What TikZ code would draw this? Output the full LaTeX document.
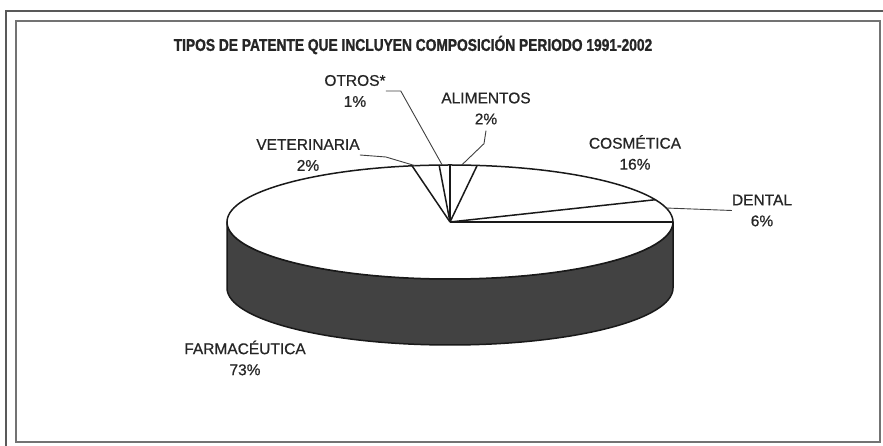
\documentclass[tikz,border=0pt]{standalone}
\usepackage{fontspec}
\setmainfont[FakeBold=0.7]{Liberation Sans}
\newfontfamily\titlefont[FakeStretch=0.81,FakeBold=1.2]{Liberation Sans Bold}
\newfontfamily\labelfont[FakeBold=0.7]{Liberation Sans}
\usetikzlibrary{calc}
\definecolor{txt}{HTML}{262626}
\definecolor{sidegray}{HTML}{424242}
\begin{document}
\begin{tikzpicture}[x=1pt,y=1pt,
  lbl/.style={font=\labelfont\fontsize{15.5}{21}\selectfont, text=txt, align=center, inner sep=0pt},
  edge/.style={draw=black!90, line width=1.5pt, line join=round},
  leader/.style={draw=black!75, line width=0.9pt}]
\useasboundingbox (0,0) rectangle (883,446);
% frames
\draw[line width=2.5pt, draw=black!65] (6,0) -- (6,435) -- (883,435);
\draw[line width=1.6pt, draw=black!55] (16,4) rectangle (880,425);
% title
\node[font=\titlefont\fontsize{17}{20}\selectfont, text=txt] (title) at (413,401)
  {TIPOS DE PATENTE QUE INCLUYEN COMPOSICIÓN PERIODO 1991-2002};
% pie
\coordinate (C) at (450,224);
\filldraw[fill=sidegray, edge] (227,224) -- (227,158)
  arc[start angle=180, end angle=360, x radius=223pt, y radius=57pt] -- (673,224)
  arc[start angle=0, end angle=-180, x radius=223pt, y radius=57pt] -- cycle;
\draw[edge, fill=white] (C) ellipse [x radius=223pt, y radius=57pt];
\foreach \a in {0,23,83,90,92.8,99.8}
  \draw[edge] (C) -- ++(\a:223pt and 57pt);
% rim points for leaders
\coordinate (rOt) at ($(C)+(92:223pt and 57pt)$);
\coordinate (rVe) at ($(C)+(99:223pt and 57pt)$);
\coordinate (rAl) at ($(C)+(87:223pt and 57pt)$);
\coordinate (rDe) at ($(C)+(14.2:223pt and 57pt)$);
% labels
\node[lbl] (otros) at (355,355) {OTROS*\\1\%};
\node[lbl] (alim) at (486,337.5) {ALIMENTOS\\2\%};
\node[lbl] (vet) at (308,291) {VETERINARIA\\2\%};
\node[lbl] (cosm) at (635,293.5) {COSMÉTICA\\16\%};
\node[lbl] (dental) at (762,235.5) {DENTAL\\6\%};
\node[lbl] (farma) at (245,88) {FARMACÉUTICA\\73\%};
% leaders
\draw[leader] (otros.east) -- ++(15,0) -- (rOt);
\draw[leader] (vet.east) -- ++(26,-2) -- (rVe);
\draw[leader] ([yshift=-6pt]alim.south) -- ++(-2,-13) -- (rAl);
\draw[leader] (rDe) -- (dental.west);
\end{tikzpicture}
\end{document}
